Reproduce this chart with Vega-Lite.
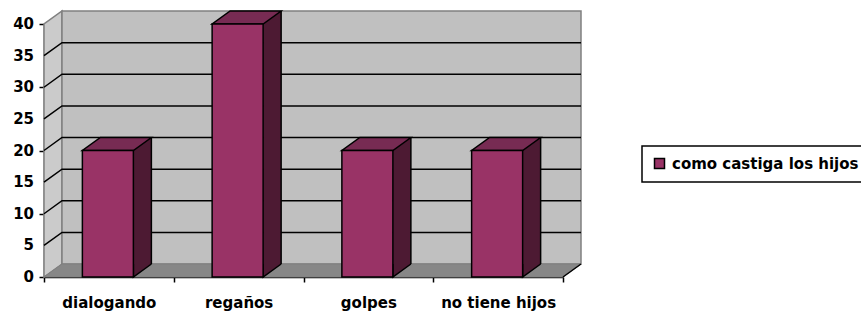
{
  "$schema": "https://vega.github.io/schema/vega-lite/v6.json",
  "width": 519,
  "height": 253,
  "autosize": {"type": "none"},
  "padding": {"left": 44, "top": 24, "right": 298, "bottom": 39},
  "background": "white",
  "config": {
    "view": {"stroke": null},
    "axis": {
      "labelFont": "DejaVu Sans",
      "labelFontWeight": "bold",
      "labelFontSize": 15,
      "labelColor": "black",
      "domainColor": "black",
      "tickColor": "black",
      "domainWidth": 1.5,
      "tickWidth": 1.5,
      "tickSize": 5,
      "grid": false,
      "zindex": 1,
      "labelOverlap": false
    },
    "axisX": {"labelAngle": 0, "tickBand": "extent", "labelPadding": 13},
    "axisY": {"labels": false, "tickCount": 8}
  },
  "datasets": {
    "bars": [
      {"categoria": "dialogando", "valor": 20, "serie": "como castiga los hijos"},
      {"categoria": "regaños", "valor": 40, "serie": "como castiga los hijos"},
      {"categoria": "golpes", "valor": 20, "serie": "como castiga los hijos"},
      {"categoria": "no tiene hijos", "valor": 20, "serie": "como castiga los hijos"}
    ],
    "grid": [{"v": 5}, {"v": 10}, {"v": 15}, {"v": 20}, {"v": 25}, {"v": 30}, {"v": 35}],
    "ticks": [{"t": 0}, {"t": 5}, {"t": 10}, {"t": 15}, {"t": 20}, {"t": 25}, {"t": 30}, {"t": 35}, {"t": 40}],
    "frame": [{"k": 1}]
  },
  "layer": [
    {
      "data": {"name": "frame"},
      "mark": {"type": "point", "shape": "M0,0 L0,-253 L18,-266 L18,-13 Z", "size": 4, "filled": true, "fill": "#CBCBCB", "stroke": "#808080", "strokeWidth": 1.5, "opacity": 1},
      "encoding": {
        "x": {"datum": "dialogando", "type": "nominal", "bandPosition": 0, "title": null, "scale": {"domain": ["dialogando", "regaños", "golpes", "no tiene hijos"], "paddingInner": 0, "paddingOuter": 0}},
        "y": {"datum": 0, "type": "quantitative", "title": null, "scale": {"domain": [0, 40], "nice": false},
          "axis": {"values": [0, 5, 10, 15, 20, 25, 30, 35, 40], "labels": false, "tickCount": 8}}
      }
    },
    {
      "data": {"name": "frame"},
      "mark": {"type": "point", "shape": "M18,-13 L537,-13 L537,-266 L18,-266 Z", "size": 4, "filled": true, "fill": "#C0C0C0", "stroke": "#808080", "strokeWidth": 1.5, "opacity": 1},
      "encoding": {
        "x": {"datum": "dialogando", "type": "nominal", "bandPosition": 0, "title": null, "scale": {"domain": ["dialogando", "regaños", "golpes", "no tiene hijos"], "paddingInner": 0, "paddingOuter": 0}},
        "y": {"datum": 0, "type": "quantitative", "title": null, "scale": {"domain": [0, 40], "nice": false},
          "axis": {"values": [0, 5, 10, 15, 20, 25, 30, 35, 40], "labels": false, "tickCount": 8}}
      }
    },
    {
      "data": {"name": "frame"},
      "mark": {"type": "point", "shape": "M0,0 L519,0 L537,-13 L18,-13 Z", "size": 4, "filled": true, "fill": "#878787", "stroke": "#808080", "strokeWidth": 1, "opacity": 1},
      "encoding": {
        "x": {"datum": "dialogando", "type": "nominal", "bandPosition": 0, "title": null, "scale": {"domain": ["dialogando", "regaños", "golpes", "no tiene hijos"], "paddingInner": 0, "paddingOuter": 0}},
        "y": {"datum": 0, "type": "quantitative", "title": null, "scale": {"domain": [0, 40], "nice": false},
          "axis": {"values": [0, 5, 10, 15, 20, 25, 30, 35, 40], "labels": false, "tickCount": 8}}
      }
    },
    {
      "data": {"name": "frame"},
      "mark": {"type": "point", "shape": "M519,0 L537,-13", "size": 4, "filled": false, "stroke": "black", "strokeWidth": 1.5, "opacity": 1},
      "encoding": {
        "x": {"datum": "dialogando", "type": "nominal", "bandPosition": 0, "title": null, "scale": {"domain": ["dialogando", "regaños", "golpes", "no tiene hijos"], "paddingInner": 0, "paddingOuter": 0}},
        "y": {"datum": 0, "type": "quantitative", "title": null, "scale": {"domain": [0, 40], "nice": false},
          "axis": {"values": [0, 5, 10, 15, 20, 25, 30, 35, 40], "labels": false, "tickCount": 8}}
      }
    },
    {
      "data": {"name": "grid"},
      "mark": {"type": "point", "shape": "M0,0 L18,-13 L537,-13", "size": 4, "filled": false, "stroke": "black", "strokeWidth": 1.5, "opacity": 1},
      "encoding": {
        "x": {"datum": "dialogando", "type": "nominal", "bandPosition": 0, "title": null, "scale": {"domain": ["dialogando", "regaños", "golpes", "no tiene hijos"], "paddingInner": 0, "paddingOuter": 0}},
        "y": {"field": "v", "type": "quantitative", "title": null, "scale": {"domain": [0, 40], "nice": false},
          "axis": {"values": [0, 5, 10, 15, 20, 25, 30, 35, 40], "labels": false, "tickCount": 8}}
      }
    },
    {
      "data": {"name": "ticks"},
      "mark": {"type": "text", "align": "right", "baseline": "middle", "dx": -10, "font": "DejaVu Sans", "fontWeight": "bold", "fontSize": 15, "color": "black"},
      "encoding": {
        "x": {"datum": "dialogando", "type": "nominal", "bandPosition": 0, "title": null, "scale": {"domain": ["dialogando", "regaños", "golpes", "no tiene hijos"], "paddingInner": 0, "paddingOuter": 0}},
        "y": {"field": "t", "type": "quantitative", "title": null, "scale": {"domain": [0, 40], "nice": false},
          "axis": {"values": [0, 5, 10, 15, 20, 25, 30, 35, 40], "labels": false, "tickCount": 8}},
        "text": {"field": "t", "type": "quantitative"}
      }
    },
    {
      "data": {"name": "bars"},
      "mark": {"type": "bar", "width": 18, "xOffset": 33.5, "yOffset": -13, "y2Offset": -13, "fill": "#4D1A33", "strokeWidth": 0},
      "encoding": {
        "x": {"field": "categoria", "type": "nominal", "sort": null, "title": null, "scale": {"domain": ["dialogando", "regaños", "golpes", "no tiene hijos"], "paddingInner": 0, "paddingOuter": 0}},
        "y": {"field": "valor", "type": "quantitative", "title": null, "scale": {"domain": [0, 40], "nice": false},
          "axis": {"values": [0, 5, 10, 15, 20, 25, 30, 35, 40], "labels": false, "tickCount": 8}},
        "y2": {"datum": 0}
      }
    },
    {
      "data": {"name": "bars"},
      "mark": {"type": "rule", "xOffset": 42.5, "yOffset": -13, "y2Offset": -13, "stroke": "black", "strokeWidth": 1.5},
      "encoding": {
        "x": {"field": "categoria", "type": "nominal", "sort": null, "title": null, "scale": {"domain": ["dialogando", "regaños", "golpes", "no tiene hijos"], "paddingInner": 0, "paddingOuter": 0}},
        "y": {"field": "valor", "type": "quantitative", "title": null, "scale": {"domain": [0, 40], "nice": false},
          "axis": {"values": [0, 5, 10, 15, 20, 25, 30, 35, 40], "labels": false, "tickCount": 8}},
        "y2": {"datum": 0}
      }
    },
    {
      "data": {"name": "bars"},
      "mark": {"type": "point", "shape": "M24.5,-13 L24.5,0 L42.5,-13", "size": 4, "filled": true, "fill": "#4D1A33", "stroke": "black", "strokeWidth": 1.5, "opacity": 1},
      "encoding": {
        "x": {"field": "categoria", "type": "nominal", "sort": null, "title": null, "scale": {"domain": ["dialogando", "regaños", "golpes", "no tiene hijos"], "paddingInner": 0, "paddingOuter": 0}},
        "y": {"datum": 0, "type": "quantitative", "title": null, "scale": {"domain": [0, 40], "nice": false},
          "axis": {"values": [0, 5, 10, 15, 20, 25, 30, 35, 40], "labels": false, "tickCount": 8}}
      }
    },
    {
      "data": {"name": "bars"},
      "mark": {"type": "point", "shape": "M-26.5,0 L24.5,0 L42.5,-13 L-8.5,-13 Z", "size": 4, "filled": true, "fill": "#772B53", "stroke": "black", "strokeWidth": 1.5, "opacity": 1},
      "encoding": {
        "x": {"field": "categoria", "type": "nominal", "sort": null, "title": null, "scale": {"domain": ["dialogando", "regaños", "golpes", "no tiene hijos"], "paddingInner": 0, "paddingOuter": 0}},
        "y": {"field": "valor", "type": "quantitative", "title": null, "scale": {"domain": [0, 40], "nice": false},
          "axis": {"values": [0, 5, 10, 15, 20, 25, 30, 35, 40], "labels": false, "tickCount": 8}}
      }
    },
    {
      "data": {"name": "bars"},
      "mark": {"type": "bar", "width": 51, "xOffset": -1, "stroke": "black", "strokeWidth": 1.5},
      "encoding": {
        "x": {"field": "categoria", "type": "nominal", "sort": null, "title": null, "scale": {"domain": ["dialogando", "regaños", "golpes", "no tiene hijos"], "paddingInner": 0, "paddingOuter": 0}},
        "y": {"field": "valor", "type": "quantitative", "title": null, "scale": {"domain": [0, 40], "nice": false},
          "axis": {"values": [0, 5, 10, 15, 20, 25, 30, 35, 40], "labels": false, "tickCount": 8}},
        "color": {"field": "serie", "type": "nominal", "scale": {"range": ["#993366"]},
          "legend": {"title": null, "orient": "none", "legendX": 598, "legendY": 122, "strokeColor": "black", "padding": 10, "symbolType": "square", "symbolSize": 100, "symbolStrokeColor": "black", "symbolStrokeWidth": 1.5, "labelFont": "DejaVu Sans", "labelFontWeight": "bold", "labelFontSize": 15, "labelColor": "black", "labelOffset": 5, "labelLimit": 400,
            "encode": {"legend": {"update": {"strokeWidth": {"value": 1.5}}}}}}
      }
    }
  ]
}
